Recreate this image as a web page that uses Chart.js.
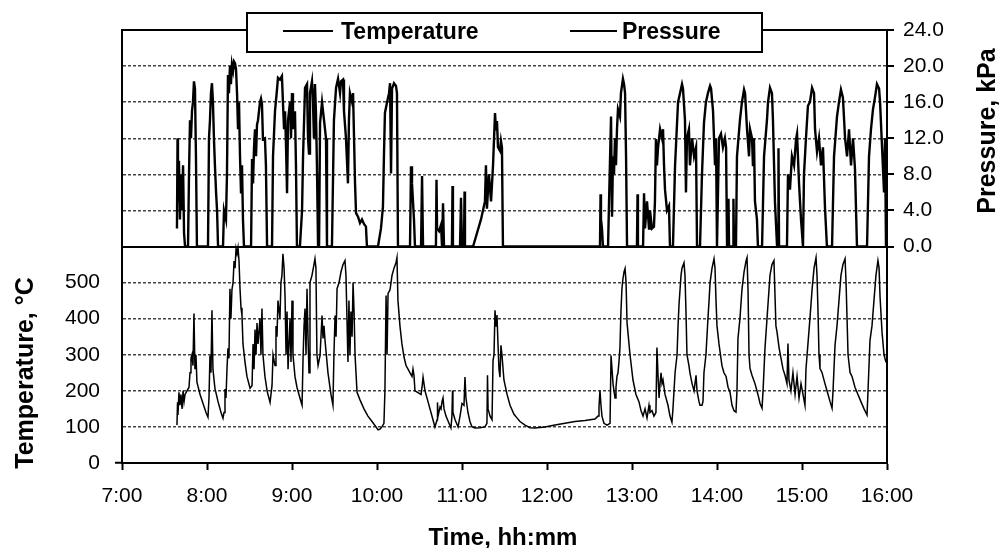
<!DOCTYPE html>
<html lang="en">
<head>
<meta charset="UTF-8">
<title>Temperature and Pressure</title>
<script src="https://cdn.jsdelivr.net/npm/chart.js"></script>
<style>
  html, body { margin: 0; padding: 0; background: #fff; }
  #wrap { width: 999px; height: 548px; position: relative; }
</style>
</head>
<body>
<div id="wrap"><canvas id="tpChart"></canvas></div>
<script>
// time in minutes after midnight
const temperatureReadings = [
  [458.8,105],[459.2,168],[459.5,133],[460.2,196],[460.9,160],[461.6,190],[462.4,150],[463.1,200],[463.8,170],[464.5,190],
  [465.9,200],[467.3,210],[468,250],[468.7,290],[469.4,300],[470.1,270],[470.8,414],[471.5,260],[472.2,300],[472.9,224],
  [475.1,190],[477.2,165],[479.3,140],[480.7,127],[481.4,180],[482.1,298],[482.8,250],[483.5,423],[484.2,260],[485.6,207],
  [487.8,170],[489.9,140],[491.3,124],[492,140],[492.7,205],[493.4,180],[494.1,260],[494.8,318],[495.5,290],[496.2,483],
  [496.9,400],[497.6,480],[498.4,500],[499.1,560],[499.8,540],[500.5,594],[501.2,580],[501.9,597],[502.6,560],[503.3,483],
  [504,430],[504.7,409],[505.4,330],[506.8,280],[508.2,240],[510.4,207],[511.8,215],[512.5,330],[513.2,260],[513.9,370],
  [514.6,300],[515.3,388],[516,330],[517.4,400],[518.1,300],[518.8,428],[519.5,300],[520.9,240],[522.4,200],[524.5,168],
  [525.9,215],[526.6,300],[528,270],[528.7,380],[529.4,350],[530.1,450],[531.5,400],[532.2,500],[532.9,520],[533.6,580],
  [534.4,540],[535.1,460],[535.8,300],[536.5,420],[537.2,260],[538.6,400],[539.3,280],[540,450],[540.7,300],[542.1,240],
  [543.5,210],[545.6,180],[547.1,160],[547.8,290],[548.5,380],[549.2,428],[549.9,300],[550.6,483],[551.3,350],[552,250],
  [552.7,500],[554.1,520],[555.5,550],[556.2,566],[556.9,540],[557.6,300],[558.4,270],[559.8,298],[561.2,409],[561.9,345],
  [562.6,380],[563.3,340],[565.4,250],[567.5,190],[568.9,160],[569.6,300],[570.4,409],[571.1,350],[571.8,483],[573.2,500],
  [574.6,530],[576,550],[577.4,561],[578.1,520],[578.8,400],[579.5,280],[580.2,450],[580.9,300],[581.6,420],[582.4,350],
  [583.1,500],[583.8,420],[584.5,300],[585.9,196],[588,175],[590.8,150],[593.6,130],[596.5,115],[599.3,100],[600.7,92],
  [602.1,94],[603.5,100],[604.9,110],[605.6,200],[606.4,464],[607.1,300],[607.8,470],[609.2,480],[610.6,520],[612,540],
  [613.4,555],[614.1,569],[614.8,450],[616.2,380],[617.6,330],[619.1,293],[620.5,270],[621.9,260],[623.3,250],[624.7,240],
  [625.4,260],[626.1,243],[626.8,200],[628.9,195],[631.1,190],[631.8,210],[632.5,238],[633.9,200],[636,170],[638.1,140],
  [640.9,100],[642.4,120],[642.7,168],[643.1,130],[644.5,155],[645.2,150],[645.9,170],[646.6,180],[647.3,150],[648.7,130],
  [650.8,110],[652.2,97],[652.9,130],[653.3,201],[653.6,140],[655.1,120],[657.2,100],[658.6,130],[660,165],[661.4,160],
  [662.1,238],[662.8,180],[664.2,140],[665.6,115],[667.1,100],[669.2,97],[672.7,98],[676.2,100],[677.6,110],[678,243],
  [678.4,150],[679.8,130],[681.2,120],[681.9,284],[682.6,300],[683.3,423],[684,380],[684.7,410],[685.4,331],[686.1,260],
  [686.8,238],[687.5,326],[688.2,300],[689.6,230],[691.8,190],[693.9,160],[696.7,135],[698.8,125],[700.9,115],[704.5,105],
  [708,98],[711.5,97],[718.6,100],[725.6,105],[732.7,110],[739.8,115],[746.8,118],[753.9,122],[756,130],[756.7,155],
  [757.4,201],[758.1,160],[758.8,130],[760.2,110],[762.4,105],[764.5,110],[765.2,298],[765.9,260],[766.6,220],[767.3,200],
  [768,180],[768.7,210],[769.4,240],[770.1,250],[770.8,280],[771.5,320],[772.2,420],[772.9,483],[773.6,510],[774.4,530],
  [775.1,539],[775.8,500],[776.5,389],[778.6,300],[780.7,230],[782.8,190],[784.9,170],[786.4,145],[787.8,130],[789.2,150],
  [790.6,125],[792,160],[792.7,140],[794.1,145],[795.5,130],[796.9,140],[797.6,320],[798.4,240],[799.1,180],[799.8,220],
  [800.5,250],[801.2,220],[801.9,230],[803.3,190],[805.4,160],[806.8,130],[808.2,113],[808.9,150],[810.4,250],[811.8,300],
  [812.5,380],[813.2,440],[813.9,480],[814.6,520],[815.3,540],[816.7,555],[817.4,520],[818.1,420],[818.8,300],[820.2,270],
  [820.9,250],[822.4,220],[823.8,200],[825.2,243],[825.9,200],[827.3,170],[828,160],[829.4,160],[830.1,170],[830.8,250],
  [832.2,300],[833.6,400],[834.4,450],[835.1,500],[836.5,540],[837.9,566],[838.6,540],[839.3,450],[840,380],[841.4,330],
  [842.1,310],[843.5,270],[844.9,250],[846.4,240],[847.8,210],[849.2,196],[850.6,160],[852,145],[853.4,141],[854.1,200],
  [854.8,345],[856.2,400],[857.6,480],[859.1,530],[860.5,560],[861.2,569],[861.9,480],[862.6,300],[863.3,262],[864.7,243],
  [866.8,220],[868.9,190],[870.4,165],[871.8,152],[872.5,200],[873.9,320],[875.3,400],[876,440],[877.4,520],[878.8,550],
  [880.2,561],[880.9,470],[881.6,380],[882.4,362],[883.8,320],[885.2,290],[886.6,260],[888,243],[889.4,220],[890.1,331],
  [890.8,230],[892.2,200],[893.6,250],[895.1,190],[896.5,240],[897.9,180],[899.3,220],[900.7,190],[902.1,160],[902.8,260],
  [904.2,330],[905.6,400],[907.1,480],[908.5,540],[909.9,569],[910.6,520],[911.3,420],[912,300],[912.7,262],[914.1,251],
  [916.2,220],[918.4,190],[919.8,170],[921.2,152],[921.9,200],[923.3,326],[924.7,380],[926.1,450],[927.5,520],[928.9,550],
  [930.4,566],[931.1,500],[931.8,400],[932.5,300],[933.9,251],[935.3,240],[937.4,210],[939.5,190],[941.6,170],[943.8,150],
  [945.9,133],[946.6,200],[948,340],[949.4,380],[950.8,450],[952.2,520],[953.6,561],[954.4,540],[955.1,460],[956.5,362],
  [957.9,300],[959.3,279]
];

const pressureReadings = [
  [458.8,2],[459.2,12],[459.5,5],[460.2,9.5],[460.9,3],[461.6,8],[462.4,4],[463.1,9],[463.8,1.5],[464.5,0],
  [466.6,0],[467.3,8],[468,14],[468.7,12],[469.4,15],[470.1,16],[470.8,18.3],[471.5,17.5],[472.2,10],[472.9,0],
  [480.7,0],[481.4,12],[482.1,14],[482.8,17],[483.5,18.1],[484.2,16],[484.9,12],[485.6,9],[486.4,6],[487.1,4],[487.8,0],
  [491.3,0],[492,4],[493.4,3],[494.1,8],[494.8,19],[495.5,17],[496.2,20],[496.9,18],[497.6,20.2],[498.4,19.5],
  [499.1,20.5],[499.8,20.3],[500.5,19.6],[501.2,17],[501.9,13],[502.6,16],[503.3,10],[504,6],[504.7,9],[505.4,3],[506.1,0],
  [511.1,0],[511.8,9.7],[512.5,7],[513.2,11],[513.9,13],[514.6,10],[515.3,13.5],[516,14],[517.4,16],[518.1,16.4],
  [518.8,15.8],[519.5,11.9],[520.9,12],[521.6,9],[522.4,0],
  [525.9,0],[526.6,10],[528,15],[529.4,17.4],[530.1,18.7],[531.5,18.5],[532.9,18.9],[533.6,16],[534.4,13],[535.1,15],
  [535.8,11],[536.5,5.9],[537.2,14],[538.6,16],[539.3,12],[540,17],[540.7,13],[542.1,15],[542.8,9],[543.5,0],
  [545.6,0],[547.1,4],[547.8,10],[549.2,17.6],[550.6,18],[551.3,12],[552,10.3],[552.7,17],[554.1,18.3],[554.8,16],
  [555.5,12],[556.2,18],[556.9,15],[557.6,9],[558.4,0],[559.1,0],[559.8,13.7],[561.2,16],[562.6,14],[564,12],[564.7,0],
  [568.2,0],[569.6,14],[571.1,17.6],[572.5,18.6],[573.9,17],[574.6,18.3],[576,18.5],[576.7,15],[578.1,12],[579.5,7],
  [580.2,14],[580.9,17],[582.4,16],[583.1,17],[583.8,12],[584.5,7],[585.2,3.7],[586.6,3.3],[588,2.6],[589.4,3],
  [590.8,2.5],[592.2,2.2],[592.9,0],
  [600.7,0],[602.8,2],[604.2,4.4],[604.9,10],[605.6,14.8],[607.1,16],[608.5,17],[609.2,18.1],[609.9,8.1],[610.6,17.5],
  [612,18.1],[613.4,17.8],[614.1,17],[614.8,0],
  [623.3,0],[624,8.9],[624.7,7],[625.4,5],[626.1,3],[626.8,0],[631.1,0],[631.8,7.8],[632.5,0],
  [641.6,0],[642,7.4],[642.4,2],[643.8,1.7],[645.2,2.4],[645.9,0],[646.6,4.8],[647.3,0],
  [652.9,0],[653.3,6.7],[653.6,0],[658.6,0],[659.3,5.4],[660,0],[661.4,0],[661.8,6.1],[662.1,0],
  [667.8,0],[670.6,1.5],[673.4,3],[676.2,5],[676.9,9],[677.6,4.2],[679,8],[680.5,5],[681.9,9],[683.3,14.8],
  [684,13],[684.7,13.9],[685.4,11],[686.8,10.6],[687.5,11.7],[688.2,11],[688.9,0],
  [757.4,0],[757.8,5.8],[758.1,3],[758.8,2],[759.5,0],
  [763.1,0],[763.8,5],[765.2,14.4],[765.9,3.3],[766.6,10],[767.3,8],[768,12],[768.7,9],[769.4,13],[770.1,15.2],
  [771.5,14.4],[772.2,17],[773.6,18.6],[774.4,18],[775.1,17],[775.8,10],[776.5,0],
  [783.5,0],[783.9,5.8],[784.2,0],
  [787.8,0],[788.5,5.9],[789.2,2],[790.6,5],[792,2],[792.7,4],[794.1,2],[795.5,2.2],[796.2,5],[796.9,11.9],
  [797.6,9],[798.4,11],[799.8,13],[801.2,12],[801.9,13],[802.6,9],[803.3,6.3],[804.7,4],[806.1,4.5],[806.8,0],
  [808.9,0],[810.4,9],[811.8,13.7],[812.5,16],[813.9,17],[815.3,18],[816,17.5],[817.4,14],[818.1,6],[818.8,12],
  [820.2,13],[820.9,9],[822.4,12],[823.8,10],[825.2,11],[825.9,0],
  [828,0],[829.4,8],[830.8,13.7],[832.2,16],[833.6,17],[835.1,17.8],[835.8,17.5],[837.2,15],[837.9,12],[838.6,9],
  [839.3,12],[840,0],[840.7,0],[841.4,12],[842.8,12.5],[844.2,11],[845.6,12],[846.4,11],[847.1,0],
  [847.8,0],[848.1,5.3],[848.5,0],[851.3,0],[851.6,5.3],[852,0],
  [853.4,0],[854.1,10],[856.2,14],[857.6,16],[859.1,17.4],[859.8,17],[861.2,13],[862.6,10],[863.3,13],[864.7,12],
  [865.4,8.9],[866.1,12],[866.8,5],[868.2,3],[868.9,0],
  [871.8,0],[873.2,10],[875.3,14.1],[876,16],[877.4,17.6],[878.8,17],[879.5,14],[880.9,5],[882.4,0],
  [883.1,0],[883.4,10.9],[883.8,0],
  [889.4,0],[890.1,8],[891.5,6.3],[892.9,10],[894.4,9],[895.8,11.9],[896.5,12.5],[897.9,7],[899.3,3],[900.7,0],
  [901.4,8],[902.8,12],[904.2,15.6],[905.6,16],[907.1,17.6],[908.5,17],[909.2,13],[910.6,10.5],[912,12],[913.4,9],
  [914.8,11],[916.2,4.4],[917.6,0],
  [921.2,0],[922.6,10],[924.7,14.4],[926.1,16],[927.5,17.4],[928.9,16.5],[930.4,12],[931.8,10],[933.2,13],[934.6,9],
  [936,12],[937.4,8.6],[938.8,0],
  [945.9,0],[947.3,10],[948.7,13],[950.1,15.2],[951.5,16.5],[952.9,18],[954.4,17.5],[955.1,16],[956.5,11],[957.9,6],
  [958.6,12],[959.3,0]
];

const timeLabels = ['7:00','8:00','9:00','10:00','11:00','12:00','13:00','14:00','15:00','16:00'];
const tempLabels = ['0','100','200','300','400','500'];
const pressureLabels = ['0.0','4.0','8.0','12.0','16.0','20.0','24.0'];
const seriesNames = ['Temperature', 'Pressure'];

Chart.defaults.font.family = "'Liberation Sans', Arial, sans-serif";
Chart.defaults.color = '#000';

const frameAndText = {
  id: 'frameAndText',
  afterDatasetsDraw(chart) {
    const { ctx, chartArea: a } = chart;
    ctx.save();
    ctx.strokeStyle = '#000';
    ctx.lineWidth = 2;
    ctx.strokeRect(a.left, a.top, a.right - a.left, a.bottom - a.top);
    ctx.restore();
  },
  afterDraw(chart) {
    const ctx = chart.ctx;
    ctx.save();
    ctx.fillStyle = '#000';
    // axis titles
    ctx.font = "bold 24px 'Liberation Sans', Arial, sans-serif";
    ctx.textAlign = 'center';
    ctx.textBaseline = 'alphabetic';
    ctx.fillText('Time, hh:mm', 503, 545);

    ctx.font = "bold 25px 'Liberation Sans', Arial, sans-serif";
    ctx.save();
    ctx.translate(33, 373);
    ctx.rotate(-Math.PI / 2);
    ctx.fillText('Temperature, °C', 0, 0);
    ctx.restore();
    ctx.save();
    ctx.translate(995, 131);
    ctx.rotate(-Math.PI / 2);
    ctx.fillText('Pressure, kPa', 0, 0);
    ctx.restore();

    // legend box
    ctx.fillStyle = '#fff';
    ctx.fillRect(247, 13, 515, 39);
    ctx.strokeStyle = '#000';
    ctx.lineWidth = 2;
    ctx.strokeRect(247, 13, 515, 39);
    ctx.lineWidth = 2;
    ctx.beginPath();
    ctx.moveTo(283, 31); ctx.lineTo(333, 31);
    ctx.moveTo(570, 31); ctx.lineTo(617, 31);
    ctx.stroke();
    ctx.fillStyle = '#000';
    ctx.font = "bold 23px 'Liberation Sans', Arial, sans-serif";
    ctx.textAlign = 'left';
    ctx.fillText(seriesNames[0], 341, 39);
    ctx.fillText(seriesNames[1], 622, 39);
    ctx.restore();
  }
};

new Chart(document.getElementById('tpChart'), {
  type: 'line',
  data: {
    datasets: [
      {
        label: seriesNames[0],
        data: temperatureReadings.map(([t, v]) => ({ x: t, y: v })),
        yAxisID: 'yT',
        borderColor: '#000',
        borderWidth: 1.5,
        pointRadius: 0,
        tension: 0
      },
      {
        label: seriesNames[1],
        data: pressureReadings.map(([t, v]) => ({ x: t, y: v })),
        yAxisID: 'yP',
        borderColor: '#000',
        borderWidth: 2.4,
        pointRadius: 0,
        tension: 0
      }
    ]
  },
  options: {
    responsive: true,
    maintainAspectRatio: false,
    animation: false,
    layout: { padding: { top: 30, left: 0, right: 0, bottom: 0 } },
    plugins: { legend: { display: false }, tooltip: { enabled: false } },
    scales: {
      x: {
        type: 'linear',
        min: 420, max: 960,
        afterFit: s => { s.height = 85; },
        ticks: {
          stepSize: 60,
          padding: 14,
          font: { size: 21 },
          maxRotation: 0,
          callback: v => timeLabels[Math.round((v - 420) / 60)]
        },
        grid: { drawOnChartArea: false, tickLength: 7, tickColor: '#000', tickWidth: 2 },
        border: { display: true, color: '#000', width: 2 }
      },
      yT: {
        position: 'left',
        min: 0, max: 1200,
        afterFit: s => { s.width = 122; },
        ticks: {
          stepSize: 100,
          padding: 15,
          font: { size: 21 },
          callback: v => (v <= 500 ? tempLabels[v / 100] : '')
        },
        grid: {
          color: c => (c.tick.value === 0 || c.tick.value === 600 || c.tick.value === 1200) ? 'rgba(0,0,0,0)' : '#444',
          lineWidth: 1.5,
          tickLength: 7,
          tickWidth: 2,
          tickColor: c => (c.tick.value === 0 ? '#000' : 'rgba(0,0,0,0)')
        },
        border: { display: true, color: '#000', width: 2, dash: [3, 2] }
      },
      yP: {
        position: 'right',
        min: -24, max: 24,
        afterFit: s => { s.width = 112; },
        ticks: {
          stepSize: 4,
          padding: 9,
          font: { size: 21 },
          callback: v => (v >= 0 ? pressureLabels[v / 4] : '')
        },
        grid: {
          drawOnChartArea: true,
          color: c => (c.tick.value === 0 ? '#000' : 'rgba(0,0,0,0)'),
          lineWidth: 2,
          tickLength: 7,
          tickWidth: 2,
          tickColor: c => (c.tick.value >= 0 ? '#000' : 'rgba(0,0,0,0)')
        },
        border: { display: true, color: '#000', width: 2 }
      }
    }
  },
  plugins: [frameAndText]
});
</script>
</body>
</html>
